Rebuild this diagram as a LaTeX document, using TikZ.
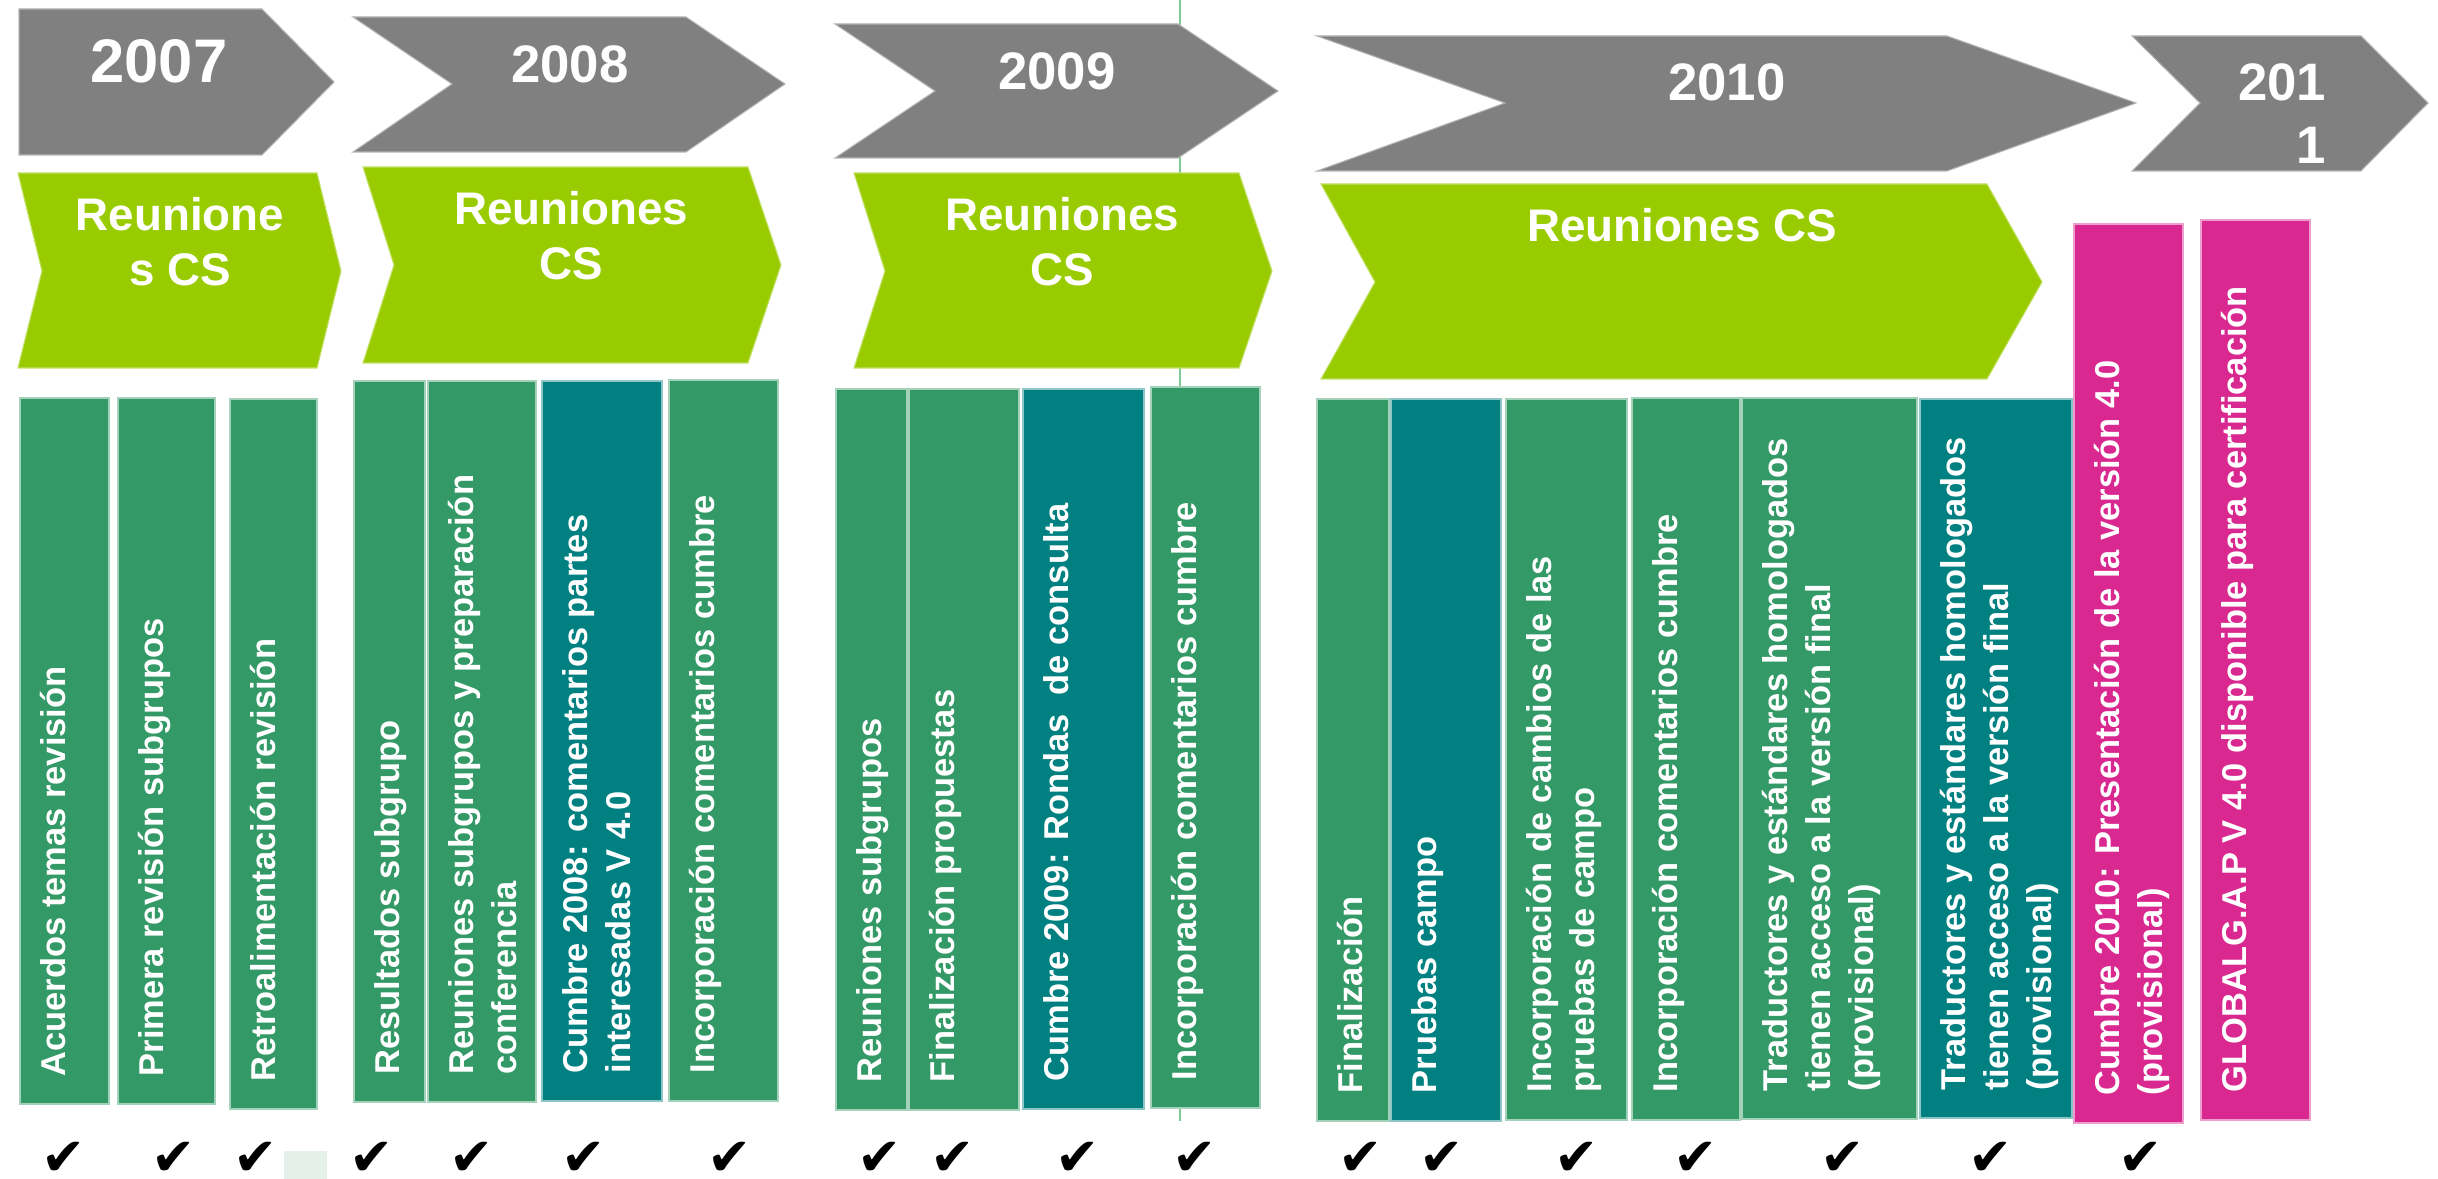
\documentclass[tikz,border=0pt]{standalone}
\usepackage{fontspec}
\setmainfont{Liberation Sans}
\newfontfamily\tickfont{DejaVu Sans}
\definecolor{yeargray}{HTML}{808080}
\definecolor{meetgreen}{HTML}{99CC00}
\definecolor{taskgreen}{HTML}{339966}
\definecolor{taskteal}{HTML}{008080}
\definecolor{taskpink}{HTML}{D9288F}
\definecolor{markbg}{HTML}{E6F0EA}
\definecolor{guide}{HTML}{80C898}

\begin{document}
\begin{tikzpicture}[x=0.01cm,y=-0.01cm,
  yr/.style={fill=yeargray,draw=yeargray!60!white,line width=0.3pt},
  meet/.style={fill=meetgreen,draw=meetgreen!60!white,line width=0.3pt},
  task/.style={fill=taskgreen,draw=taskgreen!45!white,line width=0.4pt},
  summit/.style={fill=taskteal,draw=taskteal!45!white,line width=0.4pt},
  launch/.style={fill=taskpink,draw=taskpink!45!white,line width=0.4pt},
  yrtxt/.style={text=white,font=\bfseries\fontsize{15}{18}\selectfont,anchor=north,inner sep=0pt},
  meettxt/.style={text=white,font=\bfseries\fontsize{13}{15.6}\selectfont,align=center,anchor=north,inner sep=0pt},
  tasktxt/.style={text=white,font=\bfseries\fontsize{9.8}{12.2}\selectfont,align=left,rotate=90,anchor=north west,inner sep=0pt},
  tick/.style={font=\tickfont\fontsize{15}{15}\selectfont,inner sep=0pt}]
\useasboundingbox (0,0) rectangle (2438,1179);

\draw[guide,line width=0.6pt] (1180,0) -- (1180,1121);

\filldraw[yr] (19,9) -- (262,9) -- (334,82) -- (262,155) -- (19,155) -- cycle;
\filldraw[yr] (353,17) -- (686,17) -- (785,84) -- (686,152) -- (353,152) -- (452,84) -- cycle;
\filldraw[yr] (835,24) -- (1178,24) -- (1278,91) -- (1178,158) -- (835,158) -- (935,91) -- cycle;
\filldraw[yr] (1317,36) -- (1947,36) -- (2136,103) -- (1947,171) -- (1317,171) -- (1505,103) -- cycle;
\filldraw[yr] (2132,36) -- (2361,36) -- (2428,103) -- (2361,171) -- (2132,171) -- (2200,103) -- cycle;
\node[yrtxt,font=\bfseries\fontsize{17.5}{21}\selectfont] (y07) at (159,39) {2007};
\node[yrtxt] (y08) at (570,45) {2008};
\node[yrtxt] (y09) at (1057,52) {2009};
\node[yrtxt] (y10) at (1727,63) {2010};
\node[yrtxt,align=right,anchor=north east] (y11) at (2327,63) {201\\1};

\filldraw[meet] (18,173) -- (317,173) -- (341,271) -- (317,368) -- (18,368) -- (42,271) -- cycle;
\filldraw[meet] (363,167) -- (748,167) -- (781,265) -- (748,363) -- (363,363) -- (394,265) -- cycle;
\filldraw[meet] (854,173) -- (1239,173) -- (1272,271) -- (1239,368) -- (854,368) -- (885,271) -- cycle;
\filldraw[meet] (1321,184) -- (1987,184) -- (2042,282) -- (1987,379) -- (1321,379) -- (1375,282) -- cycle;
\node[meettxt] (r07) at (180,197) {Reunione\\s CS};
\node[meettxt] (r08) at (571,191) {Reuniones\\CS};
\node[meettxt] (r09) at (1062,197) {Reuniones\\CS};
\node[meettxt] (r10) at (1682,208) {Reuniones CS};

\filldraw[task] (20,398) rectangle (109,1104);
\filldraw[task] (118,398) rectangle (215,1104);
\filldraw[task] (230,399) rectangle (317,1109);
\fill[markbg] (284,1151) rectangle (327,1179);
\node[tasktxt] (a1) at (40,1077) {Acuerdos temas revisión};
\node[tasktxt] (a2) at (138,1077) {Primera revisión subgrupos};
\node[tasktxt] (a3) at (250,1082) {Retroalimentación revisión};

\filldraw[task] (354,381) rectangle (425,1102);
\filldraw[task] (428,381) rectangle (536,1102);
\filldraw[summit] (542,381) rectangle (662,1101);
\filldraw[task] (669,380) rectangle (778,1101);
\node[tasktxt] (a4) at (374,1075) {Resultados subgrupo};
\node[tasktxt] (a5) at (448,1075) {Reuniones subgrupos y preparación\\conferencia};
\node[tasktxt] (a6) at (562,1074) {Cumbre 2008: comentarios partes\\interesadas V 4.0};
\node[tasktxt] (a7) at (689,1074) {Incorporación comentarios cumbre};

\filldraw[task] (836,389) rectangle (907,1110);
\filldraw[task] (909,389) rectangle (1019,1110);
\filldraw[summit] (1023,389) rectangle (1144,1109);
\filldraw[task] (1151,387) rectangle (1260,1108);
\node[tasktxt] (a8) at (856,1083) {Reuniones subgrupos};
\node[tasktxt] (a9) at (929,1083) {Finalización propuestas};
\node[tasktxt] (a10) at (1043,1082) {Cumbre 2009: Rondas\ \ de consulta};
\node[tasktxt] (a11) at (1171,1081) {Incorporación comentarios cumbre};

\filldraw[task] (1317,399) rectangle (1389,1121);
\filldraw[summit] (1391,399) rectangle (1501,1121);
\filldraw[task] (1506,399) rectangle (1627,1120);
\filldraw[task] (1632,398) rectangle (1740,1120);
\filldraw[task] (1742,398) rectangle (1917,1119);
\filldraw[summit] (1920,399) rectangle (2072,1118);
\node[tasktxt] (a12) at (1337,1094) {Finalización};
\node[tasktxt] (a13) at (1411,1094) {Pruebas campo};
\node[tasktxt] (a14) at (1526,1093) {Incorporación de cambios de las\\pruebas de campo};
\node[tasktxt] (a15) at (1652,1093) {Incorporación comentarios cumbre};
\node[tasktxt] (a16) at (1762,1092) {Traductores y estándares homologados\\tienen acceso a la versión final\\(provisional)};
\node[tasktxt] (a17) at (1940,1091) {Traductores y estándares homologados\\tienen acceso a la versión final\\(provisional)};

\filldraw[launch] (2074,224) rectangle (2183,1123);
\filldraw[launch] (2201,220) rectangle (2310,1120);
\node[tasktxt] (a18) at (2094,1096) {Cumbre 2010: Presentación de la versión 4.0\\(provisional)};
\node[tasktxt] (a19) at (2221,1093) {GLOBALG.A.P V 4.0 disponible para certificación};

\node[tick] (c1) at (64,1159) {✔};
\node[tick] (c2) at (174,1159) {✔};
\node[tick] (c3) at (256,1159) {✔};
\node[tick] (c4) at (372,1159) {✔};
\node[tick] (c5) at (472,1159) {✔};
\node[tick] (c6) at (584,1159) {✔};
\node[tick] (c7) at (730,1159) {✔};
\node[tick] (c8) at (880,1159) {✔};
\node[tick] (c9) at (953,1159) {✔};
\node[tick] (c10) at (1078,1159) {✔};
\node[tick] (c11) at (1195,1159) {✔};
\node[tick] (c12) at (1361,1159) {✔};
\node[tick] (c13) at (1442,1159) {✔};
\node[tick] (c14) at (1577,1159) {✔};
\node[tick] (c15) at (1696,1159) {✔};
\node[tick] (c16) at (1843,1159) {✔};
\node[tick] (c17) at (1991,1159) {✔};
\node[tick] (c18) at (2141,1159) {✔};

\end{tikzpicture}
\end{document}
